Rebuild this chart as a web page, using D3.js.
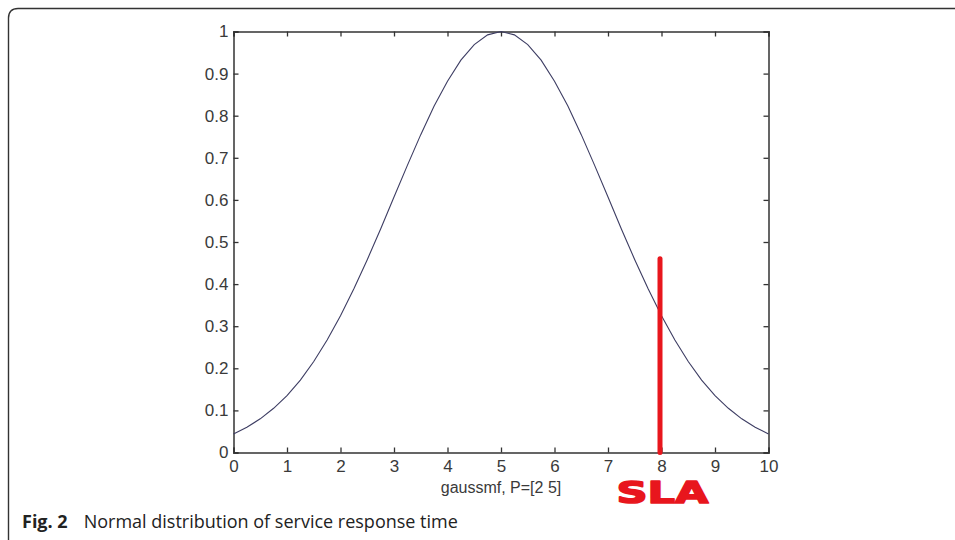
<!DOCTYPE html>
<html><head><meta charset="utf-8">
<script src="https://cdn.jsdelivr.net/npm/d3@7"></script>
<style>
html,body{margin:0;padding:0;background:#fff;}
svg{display:block;}
</style></head>
<body>
<svg id="c" width="955" height="540"></svg>
<script>
// Data (gaussmf, sigma=2, c=5)
const xValues = [0,0.25,0.5,0.75,1,1.25,1.5,1.75,2,2.25,2.5,2.75,3,3.25,3.5,3.75,4,4.25,4.5,4.75,5,
                 5.25,5.5,5.75,6,6.25,6.5,6.75,7,7.25,7.5,7.75,8,8.25,8.5,8.75,9,9.25,9.5,9.75,10];
const yValues = [0.044,0.060,0.080,0.105,0.135,0.172,0.216,0.267,0.325,0.389,0.458,0.531,0.607,0.682,0.755,0.823,0.882,0.932,0.969,0.992,1.000,
                 0.992,0.969,0.932,0.882,0.823,0.755,0.682,0.607,0.531,0.458,0.389,0.325,0.267,0.216,0.172,0.135,0.105,0.080,0.060,0.044];
const xTicks = [0,1,2,3,4,5,6,7,8,9,10];
const yTicks = [0,0.1,0.2,0.3,0.4,0.5,0.6,0.7,0.8,0.9,1];
const slaX = 8;
const slaTop = 0.46;
const xLabel = "gaussmf, P=[2 5]";
const slaLabel = "SLA";
const captionBold = "Fig. 2";
const captionText = "Normal distribution of service response time";

const svg = d3.select("#c");
const L = 233.5, R = 768.5, T = 31.5, B = 452.5;
const x = d3.scaleLinear().domain([0,10]).range([L,R]);
const y = d3.scaleLinear().domain([0,1]).range([B,T]);

// card border
svg.append("path")
  .attr("d", `M8.5,545 L8.5,18 Q8.5,8.5 18,8.5 L960,8.5`)
  .attr("fill","none").attr("stroke","#333").attr("stroke-width",1.4);

const tickFont = "'Liberation Sans', Arial, sans-serif";
const axisColor = "#333";

// axes
const gx = svg.append("g").attr("transform",`translate(0,${B})`)
  .call(d3.axisBottom(x).tickValues(xTicks).tickSize(-5).tickPadding(7).tickFormat(d3.format("d")));
const gxt = svg.append("g").attr("transform",`translate(0,${T})`)
  .call(d3.axisTop(x).tickValues(xTicks).tickSize(-5).tickFormat(""));
const gy = svg.append("g").attr("transform",`translate(${L},0)`)
  .call(d3.axisLeft(y).tickValues(yTicks).tickSize(-5).tickPadding(5).tickFormat(d => d3.format("")(d)));
const gyr = svg.append("g").attr("transform",`translate(${R},0)`)
  .call(d3.axisRight(y).tickValues(yTicks).tickSize(-5).tickFormat(""));
[gx,gxt,gy,gyr].forEach(g => {
  g.select(".domain").attr("stroke",axisColor).attr("stroke-width",1.5);
  g.selectAll(".tick line").attr("stroke",axisColor).attr("stroke-width",1.3);
  g.selectAll(".tick text").attr("fill","#3a3a3a").style("font-family",tickFont).style("font-size","17px");
});

// curve
svg.append("path")
  .datum(xValues.map((d,i)=>[d,yValues[i]]))
  .attr("d", d3.line().x(d=>x(d[0])).y(d=>y(d[1])))
  .attr("fill","none").attr("stroke","#3d3d63").attr("stroke-width",1.1);

// x label
svg.append("text").attr("x",(L+R)/2).attr("y",493).attr("text-anchor","middle")
  .style("font-family",tickFont).style("font-size","16px").attr("fill","#3a3a3a").text(xLabel);

// SLA line
svg.append("line").attr("x1",x(slaX)-1.5).attr("x2",x(slaX)-1.5).attr("y1",y(slaTop)).attr("y2",y(0))
  .attr("stroke","#e8161d").attr("stroke-width",5).attr("stroke-linecap","round");
svg.append("text").attr("x",x(slaX)+1).attr("y",503).attr("text-anchor","middle")
  .attr("textLength",92).attr("lengthAdjust","spacingAndGlyphs")
  .style("font-family","'DejaVu Sans', sans-serif").style("font-weight","bold").style("font-size","31px")
  .attr("fill","#e8161d").attr("stroke","#e8161d").attr("stroke-width",1.6).attr("stroke-linejoin","round")
  .text(slaLabel);

// caption
const cap = svg.append("text").attr("x",22).attr("y",528)
  .style("font-family","'Open Sans', sans-serif").style("font-size","18px").attr("fill","#222");
cap.append("tspan").style("font-weight","bold").text(captionBold);
cap.append("tspan").attr("dx",16).text(captionText);
</script>
</body></html>
